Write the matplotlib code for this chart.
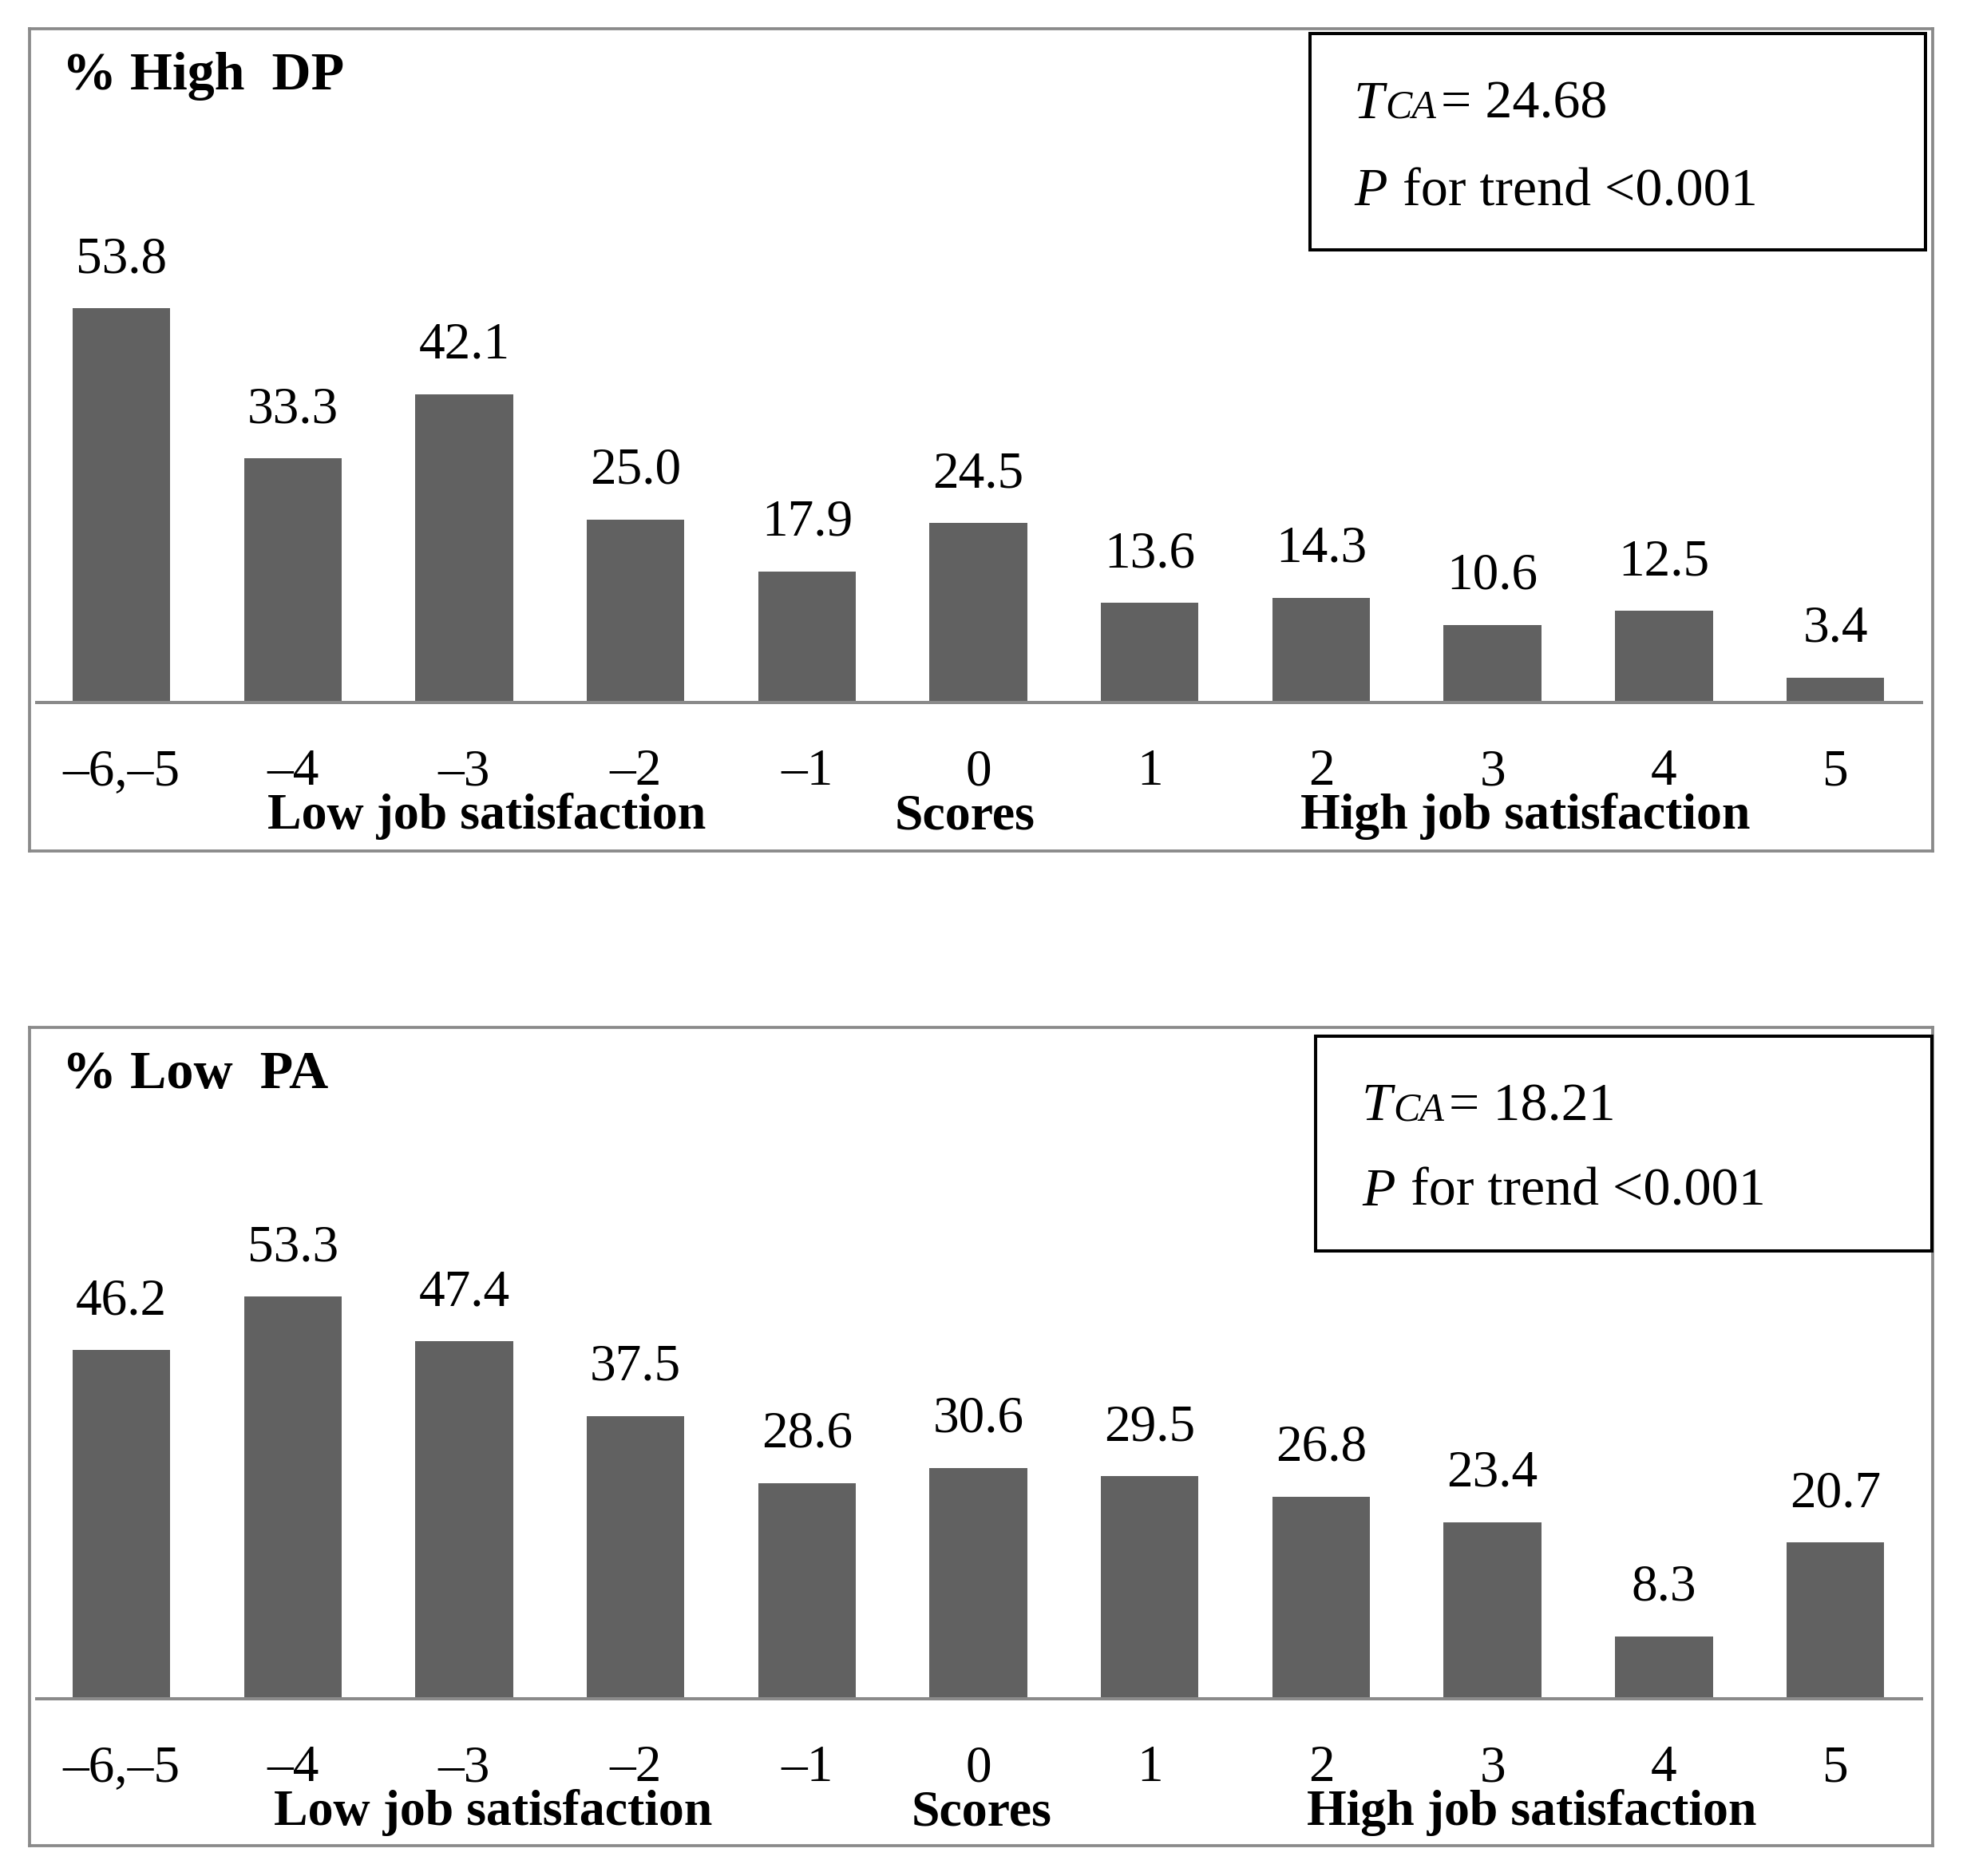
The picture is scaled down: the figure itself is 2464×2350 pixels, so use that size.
import matplotlib
matplotlib.use('Agg')
import matplotlib.pyplot as plt
from matplotlib.patches import Rectangle

plt.rcParams['font.family'] = ['Liberation Serif', 'DejaVu Serif']

# data
categories = ['\u20136,\u20135', '\u20134', '\u20133', '\u20132', '\u20131', '0', '1', '2', '3', '4', '5']
high_dp = [53.8, 33.3, 42.1, 25.0, 17.9, 24.5, 13.6, 14.3, 10.6, 12.5, 3.4]
low_pa = [46.2, 53.3, 47.4, 37.5, 28.6, 30.6, 29.5, 26.8, 23.4, 8.3, 20.7]
panel_titles = ['% High  DP', '% Low  PA']
tca_values = ['24.68', '18.21']
p_trend = '<0.001'
group_labels = ['Low job satisfaction', 'Scores', 'High job satisfaction']

W, H = 2464, 2350
BAR = '#616161'
GRAY = '#8a8a8a'

fig = plt.figure(figsize=(W / 100, H / 100), dpi=100)


def px_rect(x0, y0, x1, y1):
    # pixel box measured from the top-left corner -> figure fraction
    return [x0 / W, 1 - y1 / H, (x1 - x0) / W, (y1 - y0) / H]


layout = [
    dict(frame=(37, 36, 2421, 1066), ylim=(-20.26, 91.94),
         box=(1641, 42, 2412, 313), txt=(1696, 148, 257), groups=[2.13, 4.92, 8.19]),
    dict(frame=(37, 1287, 2421, 2312), ylim=(-19.47, 89.0),
         box=(1648, 1298, 2420, 1567), txt=(1706, 1403, 1510), groups=[2.17, 5.02, 8.23]),
]

for i, values in enumerate([high_dp, low_pa]):
    lay = layout[i]
    ax = fig.add_axes(px_rect(*lay['frame']))
    x = list(range(len(categories)))
    ax.bar(x, values, width=0.57, color=BAR, zorder=2)
    ax.set_xlim(-0.536, 10.568)
    ax.set_ylim(*lay['ylim'])
    ax.set_xticks([])
    ax.set_yticks([])
    for s in ax.spines.values():
        s.set_color(GRAY)
        s.set_linewidth(2.7)
    fx0 = lay['frame'][0]
    fw = lay['frame'][2] - fx0
    ax.axhline(0, xmin=(46 - fx0) / fw, xmax=(2407 - fx0) / fw, color=GRAY, lw=2.9, zorder=3)

    # value labels above bars
    for xi, v in zip(x, values):
        ax.annotate(f'{v:.1f}', (xi, v), xytext=(0, 45), textcoords='offset pixels',
                    ha='center', va='baseline', fontsize=47)
    # category labels under the axis line
    for xi, c in zip(x, categories):
        ax.annotate(c, (xi, 0), xytext=(0, -103), textcoords='offset pixels',
                    ha='center', va='baseline', fontsize=47)
    for gx, g in zip(lay['groups'], group_labels):
        ax.annotate(g, (gx, 0), xytext=(0, -158), textcoords='offset pixels',
                    ha='center', va='baseline', fontsize=46, fontweight='bold')

    ax.annotate(panel_titles[i], (0, 1), xycoords='axes fraction', xytext=(41, -76),
                textcoords='offset pixels', va='baseline', fontsize=49, fontweight='bold')

    # statistics box
    bx0, by0, bx1, by1 = lay['box']
    r = px_rect(bx0, by0, bx1, by1)
    fig.add_artist(Rectangle((r[0], r[1]), r[2], r[3], transform=fig.transFigure,
                             fill=False, ec='black', lw=2.9))
    tx, b1, b2 = lay['txt']
    t = ax.annotate('T', (tx, H - b1), xycoords='figure pixels', va='baseline',
                    fontsize=49, style='italic')
    t = ax.annotate('CA', (1, H - b1), xycoords=(t, 'figure pixels'), xytext=(1, 0),
                    textcoords='offset pixels', va='baseline', fontsize=36, style='italic')
    ax.annotate('= ' + tca_values[i], (1, H - b1), xycoords=(t, 'figure pixels'),
                xytext=(6, 0), textcoords='offset pixels', va='baseline', fontsize=49)
    t = ax.annotate('P', (tx, H - b2), xycoords='figure pixels', va='baseline',
                    fontsize=49, style='italic')
    ax.annotate(' for trend ' + p_trend, (1, H - b2), xycoords=(t, 'figure pixels'),
                xytext=(2, 0), textcoords='offset pixels', va='baseline', fontsize=49)

fig.savefig('out.png', dpi=100, facecolor='white')
